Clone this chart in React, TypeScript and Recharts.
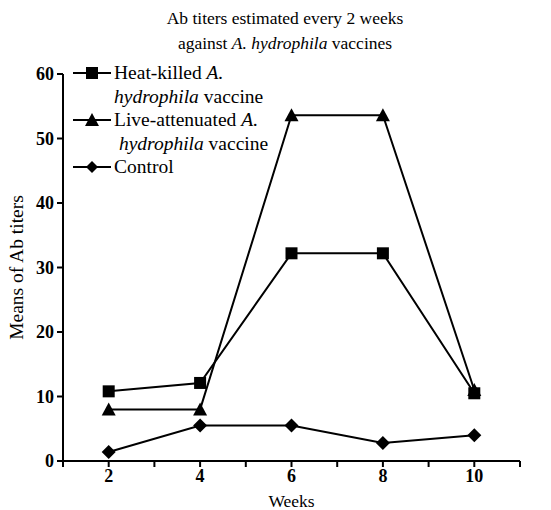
import { Legend, Line, LineChart, XAxis, YAxis, Label } from 'recharts';

const weeks = [2, 4, 6, 8, 10];
const heatKilled = [10.8, 12.1, 32.2, 32.2, 10.5];
const liveAttenuated = [8, 8, 53.6, 53.6, 11];
const control = [1.4, 5.5, 5.5, 2.8, 4.0];
const xTicks = [1, 2, 3, 4, 5, 6, 7, 8, 9, 10, 11];
const yTicks = [0, 10, 20, 30, 40, 50, 60];

const data = weeks.map((w, i) => ({
  week: w,
  heat: heatKilled[i],
  live: liveAttenuated[i],
  control: control[i],
}));

const FONT = '"Times New Roman", Tinos, "Liberation Serif", "DejaVu Serif", serif';

function Square(props: any) {
  const { cx, cy, index } = props;
  return <rect key={`sq-${index}`} x={cx - 6} y={cy - 6} width={12} height={12} fill="#000" />;
}

function Triangle(props: any) {
  const { cx, cy, index } = props;
  return <polygon key={`tr-${index}`} points={`${cx},${cy - 7} ${cx + 7},${cy + 6} ${cx - 7},${cy + 6}`} fill="#000" />;
}

function Diamond(props: any) {
  const { cx, cy, index } = props;
  return <polygon key={`di-${index}`} points={`${cx},${cy - 7} ${cx + 7},${cy} ${cx},${cy + 7} ${cx - 7},${cy}`} fill="#000" />;
}

function Marker({ kind }: { kind: string }) {
  return (
    <svg width={40} height={16} style={{ flex: 'none', marginTop: 4 }}>
      <line x1={0} y1={8} x2={38} y2={8} stroke="#000" strokeWidth={2} />
      {kind === 'sq' && <rect x={13} y={2} width={12} height={12} fill="#000" />}
      {kind === 'tr' && <polygon points="19,1 26,14 12,14" fill="#000" />}
      {kind === 'di' && <polygon points="19,2 25,8 19,14 13,8" fill="#000" />}
    </svg>
  );
}

function LegendContent() {
  const row = { display: 'flex', alignItems: 'flex-start', gap: 1 } as const;
  return (
    <div style={{ fontFamily: FONT, fontSize: 19.5, lineHeight: '23.5px', color: '#000', textAlign: 'left' }}>
      <div style={row}>
        <Marker kind="sq" />
        <div>
          Heat-killed <i>A.</i>
          <br />
          <i>hydrophila</i> vaccine
        </div>
      </div>
      <div style={row}>
        <Marker kind="tr" />
        <div>
          Live-attenuated <i>A.</i>
          <br />
          &nbsp;<i>hydrophila</i> vaccine
        </div>
      </div>
      <div style={row}>
        <Marker kind="di" />
        <div>Control</div>
      </div>
    </div>
  );
}

export default function App() {
  return (
    <div style={{ position: 'absolute', left: 0, top: 0, width: 551, height: 510, background: '#fff', fontFamily: FONT }}>
      <div style={{ position: 'absolute', left: 85, width: 400, top: 6, textAlign: 'center', fontSize: 17.5, lineHeight: '25px', color: '#000' }}>
        Ab titers estimated every 2 weeks
        <br />
        against <i>A. hydrophila</i> vaccines
      </div>
      <LineChart width={551} height={510} data={data} margin={{ top: 74, right: 31, left: 0, bottom: 0 }}>
        <XAxis
          dataKey="week"
          type="number"
          domain={[1, 11]}
          ticks={xTicks}
          tickFormatter={(v: number) => (v % 2 === 0 ? String(v) : '')}
          height={49}
          tickSize={6}
          tickMargin={2}
          stroke="#000"
          strokeWidth={2}
          tick={{ fill: '#000', fontSize: 18, fontWeight: 'bold', fontFamily: FONT }}
        >
          <Label value="Weeks" position="insideBottom" offset={3} style={{ fill: '#000', fontSize: 17.5, fontFamily: FONT }} />
        </XAxis>
        <YAxis
          type="number"
          domain={[0, 60]}
          ticks={yTicks}
          width={63}
          tickSize={6}
          tickMargin={3}
          stroke="#000"
          strokeWidth={2}
          tick={{ fill: '#000', fontSize: 18, fontWeight: 'bold', fontFamily: FONT }}
        >
          <Label value="Means of Ab titers" angle={-90} position="insideLeft" offset={16} style={{ fill: '#000', fontSize: 19.5, fontFamily: FONT, textAnchor: 'middle' }} />
        </YAxis>
        <Legend
          layout="horizontal"
          verticalAlign="middle"
          align="center"
          content={<LegendContent />}
          wrapperStyle={{ left: 73, top: 61, width: 280 }}
        />
        <Line dataKey="live" stroke="#000" strokeWidth={2} dot={Triangle} isAnimationActive={false} />
        <Line dataKey="heat" stroke="#000" strokeWidth={2} dot={Square} isAnimationActive={false} />
        <Line dataKey="control" stroke="#000" strokeWidth={2} dot={Diamond} isAnimationActive={false} />
      </LineChart>
    </div>
  );
}
